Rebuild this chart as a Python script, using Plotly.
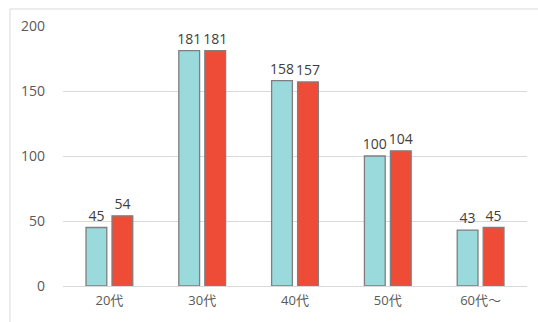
import plotly.graph_objects as go

categories = ["20代", "30代", "40代", "50代", "60代～"]
series_a = [45, 181, 158, 100, 43]
series_b = [54, 181, 157, 104, 45]
y_ticks = [0, 50, 100, 150, 200]

font_family = "Open Sans, Noto Sans CJK JP, sans-serif"

fig = go.Figure()
for vals, color in [(series_a, "#9ad9dc"), (series_b, "#ef4c37")]:
    fig.add_trace(go.Bar(
        x=categories, y=vals,
        marker=dict(color=color, line=dict(color="#7f7f7f", width=1.3)),
        text=[str(v) for v in vals], textposition="outside",
        constraintext="none",
        textfont=dict(size=14, color="#404040", family=font_family),
        cliponaxis=False,
    ))

fig.update_layout(
    width=538, height=322,
    margin=dict(l=63, r=11, t=26, b=36),
    paper_bgcolor="white", plot_bgcolor="white",
    barmode="group", bargap=0.44, bargroupgap=0.2,
    showlegend=False,
    font=dict(family=font_family, size=13, color="#595959"),
    xaxis=dict(showgrid=False, showline=False, ticks="",
               ticklabelstandoff=5,
               tickfont=dict(size=13, color="#595959")),
    yaxis=dict(range=[0, 200], tickvals=y_ticks, showgrid=True,
               gridcolor="#d9d9d9", gridwidth=1, zeroline=True,
               zerolinecolor="#d9d9d9", zerolinewidth=1,
               ticklabelstandoff=17,
               tickfont=dict(size=14, color="#595959")),
    shapes=[dict(type="rect", xref="paper", yref="paper",
                 x0=-53 / 464, x1=1.05, y0=-0.2, y1=1 + 17 / 260,
                 line=dict(color="#d9d9d9", width=1), layer="below")],
)

fig.write_html("out.html")
